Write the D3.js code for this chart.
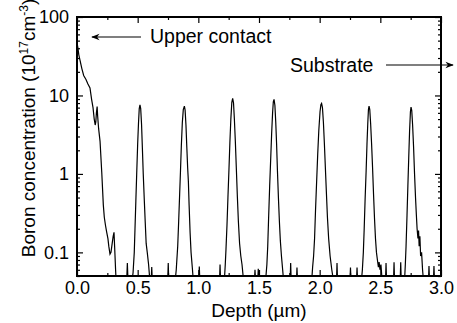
<!DOCTYPE html>
<html>
<head>
<meta charset="utf-8">
<script src="https://cdn.jsdelivr.net/npm/d3@7"></script>
<style>
  body { margin: 0; background: #fff; }
  svg text { font-family: "Liberation Sans", Arial, sans-serif; fill: #000; }
</style>
</head>
<body>
<svg id="chart" width="457" height="323"></svg>
<script>
// depth (um) vs boron concentration (1e17 cm^-3)
var upperContact = [
  [0, 47], [0.008, 40], [0.015, 33], [0.025, 28], [0.04, 22], [0.055, 18], [0.074, 16],
  [0.09, 14], [0.107, 12.5], [0.12, 9], [0.132, 7], [0.142, 5], [0.15, 4.2], [0.155, 4.6],
  [0.16, 6], [0.166, 7.2], [0.17, 5.5], [0.178, 3.8], [0.19, 2.6], [0.204, 1.05],
  [0.217, 0.4], [0.225, 0.28], [0.235, 0.22], [0.245, 0.18], [0.255, 0.15], [0.262, 0.12],
  [0.272, 0.095], [0.28, 0.1], [0.29, 0.13], [0.298, 0.16], [0.305, 0.18], [0.31, 0.12],
  [0.318, 0.06], [0.322, 0.045]
];
var deltaLayers = [
  // layer 1
  [0.455, 0.045], [0.462, 0.055], [0.472, 0.1], [0.478, 0.2], [0.485, 0.45], [0.492, 1],
  [0.5, 2.4], [0.507, 4.5], [0.513, 6.8], [0.519, 7.6], [0.525, 6.8], [0.532, 4.3],
  [0.539, 2.1], [0.546, 1], [0.555, 0.45], [0.562, 0.25], [0.57, 0.13], [0.579, 0.1],
  [0.59, 0.07], [0.6, 0.045],
  // layer 2
  [0.81, 0.045], [0.818, 0.06], [0.83, 0.12], [0.838, 0.25], [0.846, 0.55], [0.853, 1.1],
  [0.86, 2.3], [0.868, 4.5], [0.876, 6.6], [0.885, 7.3], [0.891, 6.5], [0.898, 4.2],
  [0.905, 2.2], [0.912, 1.2], [0.918, 0.8], [0.924, 0.4], [0.932, 0.18], [0.94, 0.1],
  [0.95, 0.065], [0.958, 0.045],
  // layer 3
  [1.215, 0.045], [1.222, 0.07], [1.228, 0.11], [1.236, 0.22], [1.244, 0.5], [1.252, 1.1],
  [1.26, 2.5], [1.268, 5], [1.276, 8.2], [1.283, 9.2], [1.29, 8], [1.297, 5], [1.305, 2.6],
  [1.313, 1.2], [1.322, 0.5], [1.33, 0.25], [1.34, 0.13], [1.35, 0.09], [1.36, 0.07],
  [1.372, 0.045],
  // layer 4
  [1.555, 0.045], [1.565, 0.07], [1.572, 0.12], [1.58, 0.3], [1.588, 0.7], [1.596, 1.5],
  [1.604, 3.2], [1.612, 6], [1.618, 8.3], [1.624, 8.9], [1.631, 7.5], [1.638, 4.6],
  [1.645, 2.4], [1.652, 1.1], [1.66, 0.5], [1.668, 0.25], [1.676, 0.14], [1.685, 0.09],
  [1.695, 0.06], [1.702, 0.045],
  // layer 5
  [1.935, 0.045], [1.942, 0.065], [1.95, 0.09], [1.958, 0.15], [1.966, 0.35], [1.975, 0.8],
  [1.984, 1.8], [1.993, 3.6], [2.003, 6.2], [2.01, 7.6], [2.016, 7.9], [2.023, 7],
  [2.031, 4.5], [2.039, 2.4], [2.047, 1.2], [2.056, 0.55], [2.064, 0.28], [2.074, 0.15],
  [2.086, 0.09], [2.1, 0.06], [2.112, 0.045],
  // layer 6
  [2.345, 0.045], [2.352, 0.06], [2.36, 0.1], [2.367, 0.2], [2.375, 0.5], [2.383, 1.1],
  [2.39, 2.4], [2.397, 4.6], [2.402, 6.6], [2.407, 7.3], [2.413, 6.6], [2.42, 4.4],
  [2.428, 2.4], [2.436, 1.2], [2.444, 0.55], [2.452, 0.27], [2.46, 0.15], [2.468, 0.1],
  [2.476, 0.08], [2.484, 0.065], [2.49, 0.075], [2.497, 0.06], [2.505, 0.07], [2.512, 0.05],
  [2.52, 0.045],
  // layer 7
  [2.7, 0.045], [2.706, 0.07], [2.712, 0.12], [2.72, 0.3], [2.727, 0.7], [2.734, 1.6],
  [2.741, 3.5], [2.748, 6.2], [2.753, 7.1], [2.759, 6.4], [2.766, 4.2], [2.774, 2.2],
  [2.782, 1.0], [2.79, 0.5], [2.797, 0.3], [2.803, 0.2], [2.81, 0.15], [2.815, 0.19],
  [2.82, 0.12], [2.826, 0.16], [2.832, 0.09], [2.84, 0.1], [2.848, 0.06], [2.855, 0.045]
];
// noise counts poking above the detection floor
var noiseFloor = [
  [0.41, 0.045], [0.415, 0.073], [0.42, 0.045], [0.612, 0.045], [0.616, 0.065], [0.62, 0.045],
  [0.748, 0.045], [0.752, 0.073], [0.756, 0.045], [1.004, 0.045], [1.008, 0.066], [1.012, 0.045],
  [1.175, 0.045], [1.179, 0.07], [1.183, 0.045], [1.463, 0.045], [1.467, 0.06], [1.471, 0.045],
  [1.49, 0.045], [1.494, 0.062], [1.498, 0.045], [1.757, 0.045], [1.761, 0.073], [1.765, 0.045],
  [1.809, 0.045], [1.813, 0.064], [1.817, 0.045], [2.139, 0.045], [2.143, 0.073], [2.147, 0.045],
  [2.25, 0.045], [2.254, 0.064], [2.258, 0.045], [2.304, 0.045], [2.308, 0.064], [2.312, 0.045],
  [2.543, 0.045], [2.547, 0.073], [2.551, 0.045], [2.609, 0.045], [2.613, 0.075], [2.617, 0.045],
  [2.664, 0.045], [2.668, 0.075], [2.672, 0.045], [2.897, 0.045], [2.901, 0.067], [2.905, 0.045],
  [2.938, 0.045], [2.942, 0.067], [2.946, 0.045], [3.0, 0.045]
];

var xTicks = [0, 0.5, 1.0, 1.5, 2.0, 2.5, 3.0];
var xMinorTicks = [0.25, 0.75, 1.25, 1.75, 2.25, 2.75];
var yTicks = [0.1, 1, 10, 100];
var yTickLabels = ["0.1", "1", "10", "100"];

var plotLeft = 77, plotRight = 441, plotTop = 17, plotBottom = 276;

var svg = d3.select("#chart");

var x = d3.scaleLinear().domain([0, 3]).range([plotLeft, plotRight]);
var y = d3.scaleLog().domain([0.05, 100]).range([plotBottom, plotTop]);

var profile = upperContact.concat(deltaLayers, noiseFloor)
  .sort(function(a, b) { return a[0] - b[0]; });

svg.append("clipPath").attr("id", "plotClip")
  .append("rect")
  .attr("x", plotLeft).attr("y", plotTop)
  .attr("width", plotRight - plotLeft).attr("height", plotBottom - plotTop);

var line = d3.line()
  .x(function(d) { return x(d[0]); })
  .y(function(d) { return y(d[1]); });

svg.append("path")
  .datum(profile)
  .attr("clip-path", "url(#plotClip)")
  .attr("fill", "none")
  .attr("stroke", "#000")
  .attr("stroke-width", 1.2)
  .attr("d", line);

var yMinor = y.ticks().filter(function(v) { return yTicks.indexOf(v) < 0; });

function styleAxis(g) {
  g.select(".domain").remove();
  g.selectAll("line").attr("stroke", "#000").attr("stroke-width", 1.2);
  g.selectAll("text").attr("font-size", 18).attr("fill", "#000")
    .style("font-family", "'Liberation Sans', Arial, sans-serif");
}

// bottom
svg.append("g").attr("transform", "translate(0," + plotBottom + ")")
  .call(d3.axisBottom(x).tickValues(xTicks).tickSize(-6).tickPadding(5)
    .tickFormat(d3.format(".1f")))
  .call(styleAxis);
svg.append("g").attr("transform", "translate(0," + plotBottom + ")")
  .call(d3.axisBottom(x).tickValues(xMinorTicks).tickSize(-3).tickFormat(""))
  .call(styleAxis);
// top
svg.append("g").attr("transform", "translate(0," + plotTop + ")")
  .call(d3.axisTop(x).tickValues(xTicks).tickSize(-6).tickFormat(""))
  .call(styleAxis);
svg.append("g").attr("transform", "translate(0," + plotTop + ")")
  .call(d3.axisTop(x).tickValues(xMinorTicks).tickSize(-3).tickFormat(""))
  .call(styleAxis);
// left
svg.append("g").attr("transform", "translate(" + plotLeft + ",0)")
  .call(d3.axisLeft(y).tickValues(yTicks).tickSize(-6).tickPadding(8)
    .tickFormat(function(d, i) { return yTickLabels[i]; }))
  .call(styleAxis);
svg.append("g").attr("transform", "translate(" + plotLeft + ",0)")
  .call(d3.axisLeft(y).tickValues(yMinor).tickSize(-3).tickFormat(""))
  .call(styleAxis);
// right
svg.append("g").attr("transform", "translate(" + plotRight + ",0)")
  .call(d3.axisRight(y).tickValues(yTicks).tickSize(-6).tickFormat(""))
  .call(styleAxis);
svg.append("g").attr("transform", "translate(" + plotRight + ",0)")
  .call(d3.axisRight(y).tickValues(yMinor).tickSize(-3).tickFormat(""))
  .call(styleAxis);

// frame
svg.append("rect")
  .attr("x", plotLeft).attr("y", plotTop)
  .attr("width", plotRight - plotLeft).attr("height", plotBottom - plotTop)
  .attr("fill", "none").attr("stroke", "#000").attr("stroke-width", 2);

// axis titles
svg.append("text")
  .attr("x", (plotLeft + plotRight) / 2).attr("y", 317)
  .attr("text-anchor", "middle").attr("font-size", 19)
  .text("Depth (\u00b5m)");

var yTitle = svg.append("text")
  .attr("transform", "translate(35,128) rotate(-90)")
  .attr("text-anchor", "middle").attr("font-size", 19);
yTitle.append("tspan").text("Boron concentration (10");
yTitle.append("tspan").attr("dy", -7).attr("font-size", 12).text("17");
yTitle.append("tspan").attr("dy", 7).text("cm");
yTitle.append("tspan").attr("dy", -7).attr("font-size", 12).text("-3");
yTitle.append("tspan").attr("dy", 7).text(")");

// annotations
var defs = svg.append("defs");
defs.append("marker").attr("id", "arrow")
  .attr("viewBox", "0 0 10 10").attr("refX", 9).attr("refY", 5)
  .attr("markerWidth", 7).attr("markerHeight", 7).attr("orient", "auto-start-reverse")
  .append("path").attr("d", "M0,1 L10,5 L0,9 L3,5 Z").attr("fill", "#000");

svg.append("line")
  .attr("x1", 141).attr("y1", 37).attr("x2", 92).attr("y2", 37)
  .attr("stroke", "#000").attr("stroke-width", 1.2)
  .attr("marker-end", "url(#arrow)");
svg.append("text").attr("x", 150).attr("y", 43).attr("font-size", 19.5).text("Upper contact");

svg.append("line")
  .attr("x1", 386).attr("y1", 65).attr("x2", 453).attr("y2", 65)
  .attr("stroke", "#000").attr("stroke-width", 1.2)
  .attr("marker-end", "url(#arrow)");
svg.append("text").attr("x", 290).attr("y", 72).attr("font-size", 19.5).text("Substrate");
</script>
</body>
</html>
